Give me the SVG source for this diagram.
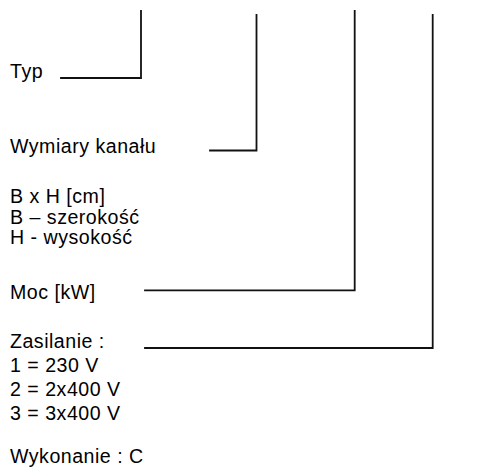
<svg xmlns="http://www.w3.org/2000/svg" width="504" height="475" viewBox="0 0 504 475">
<style>
  text { font-family: "Liberation Sans", Arial, sans-serif; font-size: 19.6px; letter-spacing: 0.5px; fill: #000; }
  .ln { fill: none; stroke: #111; stroke-width: 1.8; stroke-linecap: square; stroke-linejoin: miter; }
</style>
<rect width="504" height="475" fill="#fff"/>
<g id="connectors">
  <polyline class="ln" points="61,78 141,78 141,11"/>
  <polyline class="ln" points="210,150.5 256.5,150.5 256.5,15"/>
  <polyline class="ln" points="145,290.3 354.7,290.3 354.7,11"/>
  <polyline class="ln" points="145,348 432.7,348 432.7,15"/>
</g>
<g id="typ"><text x="10" y="78">Typ</text></g>
<g id="wymiary">
  <text x="10" y="152.5">Wymiary kanału</text>
  <text x="10" y="203">B x H [cm]</text>
  <text x="10" y="223.5">B – szerokość</text>
  <text x="10" y="244">H - wysokość</text>
</g>
<g id="moc"><text x="10" y="298.5">Moc [kW]</text></g>
<g id="zasilanie">
  <text x="10" y="348">Zasilanie :</text>
  <text x="10" y="372">1 = 230 V</text>
  <text x="10" y="396">2 = 2x400 V</text>
  <text x="10" y="420">3 = 3x400 V</text>
</g>
<g id="wykonanie"><text x="10" y="463">Wykonanie : C</text></g>
</svg>
